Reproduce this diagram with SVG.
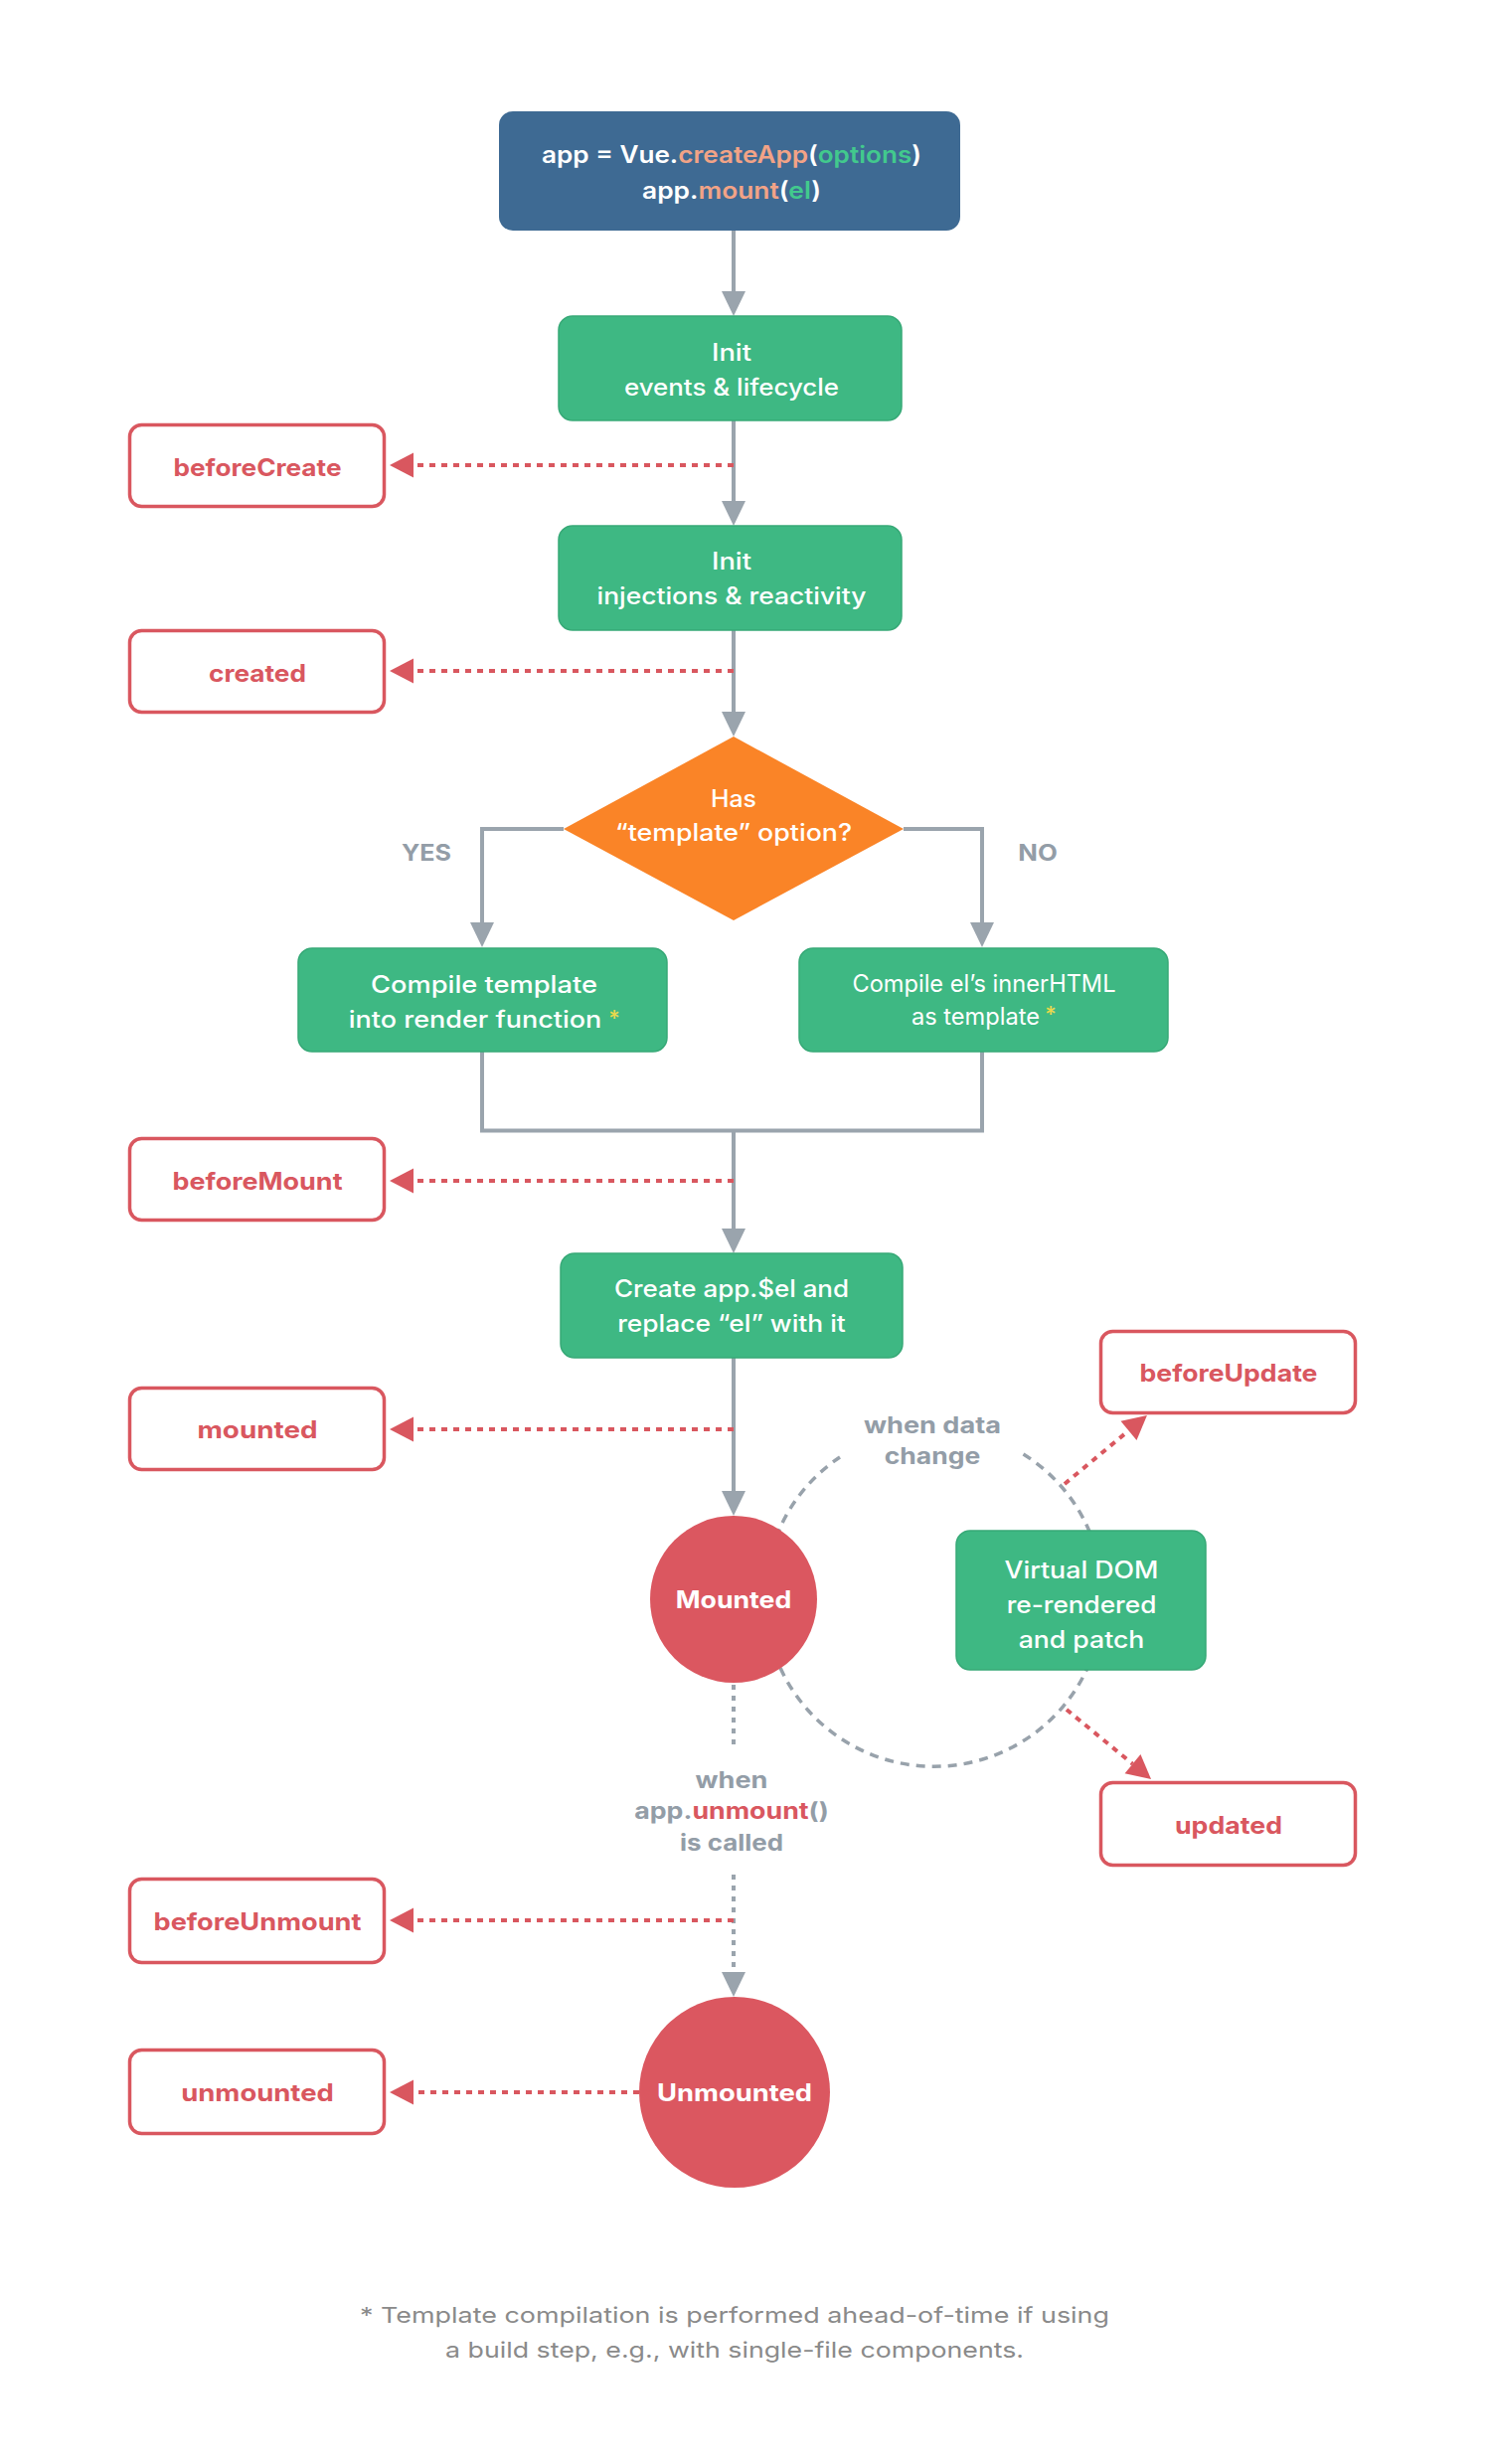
<svg xmlns="http://www.w3.org/2000/svg" width="1500" height="2479" viewBox="0 0 1500 2479">
<defs>
<marker id="ag" markerUnits="userSpaceOnUse" markerWidth="26" markerHeight="26" refX="0" refY="13" orient="auto" overflow="visible"><path d="M0,1 L25,13 L0,25 z" fill="#9aa4ad"/></marker>
<marker id="ar" markerUnits="userSpaceOnUse" markerWidth="26" markerHeight="26" refX="0" refY="13" orient="auto" overflow="visible"><path d="M0,0.5 L24,13 L0,25.5 z" fill="#d9575f"/></marker>
<style>
text{font-family:Inter,"Open Sans","Liberation Sans",sans-serif;text-anchor:middle}
.flow{fill:none;stroke:#9aa4ad;stroke-width:4}
.flowd{fill:none;stroke:#9aa4ad;stroke-width:4;stroke-dasharray:5 6}
.loop{fill:none;stroke:#98a2ab;stroke-width:3.5;stroke-dasharray:9 7}
.hookl{fill:none;stroke:#d9575f;stroke-width:4;stroke-dasharray:6 6}
.green{fill:#3eb883;stroke:#37a977;stroke-width:1.5}
.hook{fill:#ffffff;stroke:#d9575f;stroke-width:3.5}
.state{fill:#db5760}
.wt{fill:#ffffff;font-size:24px;font-weight:500}
.ht{fill:#d9575f;font-size:24px;font-weight:700}
.st{fill:#ffffff;font-size:24px;font-weight:700}
.gt{fill:#939da7;font-size:23px;font-weight:700}
.ast{fill:#e9d84c;font-size:22px;font-weight:500}
.ft{fill:#8a8a8a;font-size:22px;font-weight:400}
</style>
</defs>
<rect width="1500" height="2479" fill="#ffffff"/>
<g id="connectors">
<path class="flow" d="M738 232 V293" marker-end="url(#ag)"/>
<path class="flow" d="M738 423 V504" marker-end="url(#ag)"/>
<path class="flow" d="M738 634 V716" marker-end="url(#ag)"/>
<path class="flow" d="M567 834 H485 V928" marker-end="url(#ag)"/>
<path class="flow" d="M909 834 H988 V928" marker-end="url(#ag)"/>
<path class="flow" d="M485 1058 V1137.5 H988 V1058"/>
<path class="flow" d="M738 1137.5 V1236" marker-end="url(#ag)"/>
<path class="flow" d="M738 1366 V1500" marker-end="url(#ag)"/>
<path class="flowd" d="M738 1695 V1758"/>
<path class="flowd" d="M738 1886 V1984" marker-end="url(#ag)"/>
<path class="loop" d="M1029.5 1463 A170 170 0 1 1 845 1466"/>
<path class="hookl" d="M738 468 H416" marker-end="url(#ar)"/>
<path class="hookl" d="M738 675 H416" marker-end="url(#ar)"/>
<path class="hookl" d="M738 1188 H416" marker-end="url(#ar)"/>
<path class="hookl" d="M738 1438 H416" marker-end="url(#ar)"/>
<path class="hookl" d="M738 1932 H416" marker-end="url(#ar)"/>
<path class="hookl" d="M643 2105 H416" marker-end="url(#ar)"/>
<path class="hookl" d="M1071 1493 L1135.5 1439.3" marker-end="url(#ar)"/>
<path class="hookl" d="M1073 1720 L1139.5 1774.7" marker-end="url(#ar)"/>
</g>
<g id="create-app">
<rect x="502" y="112" width="464" height="120" rx="14" fill="#3e6a93"/>
<text x="736" y="164" font-size="24" font-weight="600" fill="#ffffff" textLength="382" lengthAdjust="spacingAndGlyphs">app = Vue.<tspan fill="#f2a386">createApp</tspan>(<tspan fill="#42c98d">options</tspan>)</text>
<text x="736" y="200" font-size="24" font-weight="600" fill="#ffffff" textLength="180" lengthAdjust="spacingAndGlyphs">app.<tspan fill="#f2a386">mount</tspan>(<tspan fill="#42c98d">el</tspan>)</text>
</g>
<g id="init-events">
<rect class="green" x="562" y="318" width="345" height="105" rx="14"/>
<text class="wt" x="736" y="363" textLength="40" lengthAdjust="spacingAndGlyphs">Init</text>
<text class="wt" x="736" y="398" textLength="216" lengthAdjust="spacingAndGlyphs">events &amp; lifecycle</text>
</g>
<g id="init-injections">
<rect class="green" x="562" y="529" width="345" height="105" rx="14"/>
<text class="wt" x="736" y="573" textLength="40" lengthAdjust="spacingAndGlyphs">Init</text>
<text class="wt" x="736" y="608" textLength="271" lengthAdjust="spacingAndGlyphs">injections &amp; reactivity</text>
</g>
<g id="has-template">
<polygon points="738,741 909,834 738,926 567,834" fill="#fa8427"/>
<text class="wt" x="738" y="812" textLength="46" lengthAdjust="spacingAndGlyphs">Has</text>
<text class="wt" x="738" y="846" textLength="238" lengthAdjust="spacingAndGlyphs">“template” option?</text>
</g>
<g id="label-yes"><text class="gt" x="429" y="866" textLength="50" lengthAdjust="spacingAndGlyphs">YES</text></g>
<g id="label-no"><text class="gt" x="1044" y="866" textLength="39.5" lengthAdjust="spacingAndGlyphs">NO</text></g>
<g id="compile-template">
<rect class="green" x="300" y="954" width="371" height="104" rx="14"/>
<text class="wt" x="487" y="999" textLength="228" lengthAdjust="spacingAndGlyphs">Compile template</text>
<text class="wt" x="478" y="1034" textLength="254.5" lengthAdjust="spacingAndGlyphs">into render function</text>
<text class="ast" x="618" y="1032">*</text>
</g>
<g id="compile-innerhtml">
<rect class="green" x="804" y="954" width="371" height="104" rx="14"/>
<text x="990" y="998" font-family="'Liberation Sans',Arial,sans-serif" font-size="24" fill="#ffffff" textLength="265" lengthAdjust="spacingAndGlyphs">Compile el’s innerHTML</text>
<text x="981.5" y="1031" font-family="'Liberation Sans',Arial,sans-serif" font-size="24" fill="#ffffff" textLength="129" lengthAdjust="spacingAndGlyphs">as template</text>
<text class="ast" x="1057" y="1028" font-family="'Liberation Sans',Arial,sans-serif">*</text>
</g>
<g id="create-el">
<rect class="green" x="564" y="1261" width="344" height="105" rx="14"/>
<text class="wt" x="736" y="1305" textLength="236" lengthAdjust="spacingAndGlyphs">Create app.$el and</text>
<text class="wt" x="736" y="1340" textLength="229.6" lengthAdjust="spacingAndGlyphs">replace “el” with it</text>
</g>
<g id="label-data-change">
<text class="gt" x="938" y="1442" textLength="138" lengthAdjust="spacingAndGlyphs">when data</text>
<text class="gt" x="938" y="1473" textLength="96.4" lengthAdjust="spacingAndGlyphs">change</text>
</g>
<g id="mounted-state">
<circle class="state" cx="738" cy="1609" r="84"/>
<text class="st" x="738" y="1618" textLength="116.5" lengthAdjust="spacingAndGlyphs">Mounted</text>
</g>
<g id="virtual-dom">
<rect class="green" x="962" y="1540" width="251" height="140" rx="14"/>
<text class="wt" x="1088" y="1588" textLength="155" lengthAdjust="spacingAndGlyphs">Virtual DOM</text>
<text class="wt" x="1088" y="1623" textLength="150.7" lengthAdjust="spacingAndGlyphs">re-rendered</text>
<text class="wt" x="1088" y="1658" textLength="126.7" lengthAdjust="spacingAndGlyphs">and patch</text>
</g>
<g id="label-unmount">
<text class="gt" x="736" y="1799" textLength="72.8" lengthAdjust="spacingAndGlyphs">when</text>
<text class="gt" x="736" y="1830" textLength="195.5" lengthAdjust="spacingAndGlyphs">app.<tspan fill="#d9575f">unmount</tspan>()</text>
<text class="gt" x="736" y="1862" textLength="104" lengthAdjust="spacingAndGlyphs">is called</text>
</g>
<g id="unmounted-state">
<circle class="state" cx="739" cy="2105" r="96"/>
<text class="st" x="739" y="2114" textLength="156" lengthAdjust="spacingAndGlyphs">Unmounted</text>
</g>
<g id="hook-beforeCreate">
<rect class="hook" x="130.5" y="427.5" width="256" height="82" rx="12"/>
<text class="ht" x="259" y="479" textLength="169" lengthAdjust="spacingAndGlyphs">beforeCreate</text>
</g>
<g id="hook-created">
<rect class="hook" x="130.5" y="634.5" width="256" height="82" rx="12"/>
<text class="ht" x="259" y="686" textLength="98" lengthAdjust="spacingAndGlyphs">created</text>
</g>
<g id="hook-beforeMount">
<rect class="hook" x="130.5" y="1145.5" width="256" height="82" rx="12"/>
<text class="ht" x="259" y="1197" textLength="171" lengthAdjust="spacingAndGlyphs">beforeMount</text>
</g>
<g id="hook-mounted">
<rect class="hook" x="130.5" y="1396.5" width="256" height="82" rx="12"/>
<text class="ht" x="259" y="1447" textLength="121" lengthAdjust="spacingAndGlyphs">mounted</text>
</g>
<g id="hook-beforeUpdate">
<rect class="hook" x="1107.5" y="1339.5" width="256" height="82" rx="12"/>
<text class="ht" x="1236" y="1390" textLength="179" lengthAdjust="spacingAndGlyphs">beforeUpdate</text>
</g>
<g id="hook-updated">
<rect class="hook" x="1107.5" y="1793.5" width="256" height="83" rx="12"/>
<text class="ht" x="1236" y="1845" textLength="108" lengthAdjust="spacingAndGlyphs">updated</text>
</g>
<g id="hook-beforeUnmount">
<rect class="hook" x="130.5" y="1890.5" width="256" height="84" rx="12"/>
<text class="ht" x="259" y="1942" textLength="209" lengthAdjust="spacingAndGlyphs">beforeUnmount</text>
</g>
<g id="hook-unmounted">
<rect class="hook" x="130.5" y="2062.5" width="256" height="84" rx="12"/>
<text class="ht" x="259" y="2114" textLength="153.6" lengthAdjust="spacingAndGlyphs">unmounted</text>
</g>
<g id="footnote">
<text class="ft" x="739" y="2337" textLength="754" lengthAdjust="spacingAndGlyphs">* Template compilation is performed ahead-of-time if using</text>
<text class="ft" x="739" y="2372" textLength="582" lengthAdjust="spacingAndGlyphs">a build step, e.g., with single-file components.</text>
</g>
</svg>
